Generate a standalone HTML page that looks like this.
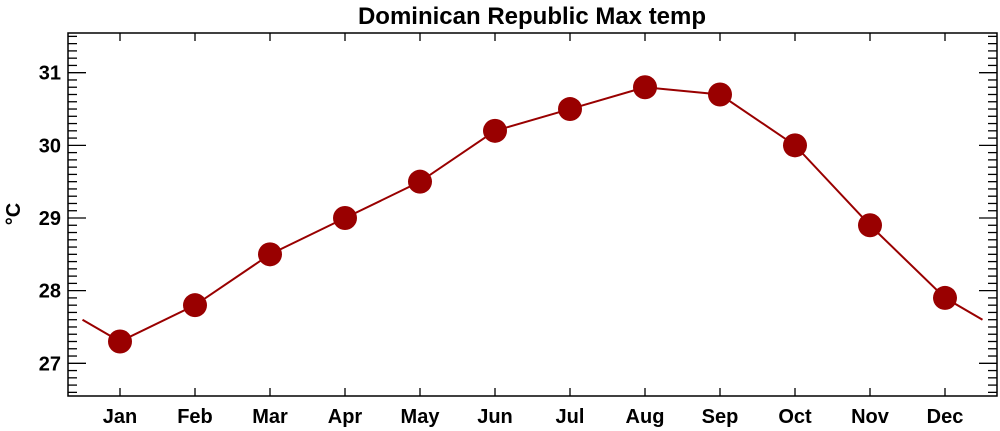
<!DOCTYPE html><html><head><style>body{margin:0;background:#fff}svg{display:block}text{font-family:"Liberation Sans",sans-serif;font-weight:bold}</style></head><body>
<svg width="1000" height="431" xmlns="http://www.w3.org/2000/svg">
<text x="532" y="24" font-size="24" text-anchor="middle">Dominican Republic Max temp</text>
<g id="ticks" stroke="#000" stroke-width="1.3"></g>
<rect x="68" y="33" width="929" height="363" fill="none" stroke="#000" stroke-width="1.5"/>
<g font-size="20" text-anchor="end" id="yl"></g>
<g font-size="20" text-anchor="middle" id="xl"></g>
<text transform="translate(20,214) rotate(-90)" font-size="20" text-anchor="middle">°C</text>
<polyline id="ln" fill="none" stroke="#990000" stroke-width="2"/>
<g id="mk" fill="#990000"></g>
</svg>
<script>
function Y(v){return 363.3-(v-27)*72.65}
function X(i){return 120+i*75}
var t=document.getElementById('ticks'),s='';
for(var k=0;k<=50;k++){var v=26.6+k*0.1;var y=Y(v);if(y<34||y>395)continue;var maj=Math.abs(v-Math.round(v))<0.01;var L=maj?18:9;
s+='<line x1="68" x2="'+(68+L)+'" y1="'+y+'" y2="'+y+'"/><line x1="997" x2="'+(997-L)+'" y1="'+y+'" y2="'+y+'"/>';}
for(var i=0;i<12;i++){s+='<line x1="'+X(i)+'" x2="'+X(i)+'" y1="396" y2="388"/><line x1="'+X(i)+'" x2="'+X(i)+'" y1="33" y2="41"/>';}
t.innerHTML=s;
var yl='';for(var v=27;v<=31;v++)yl+='<text x="61" y="'+(Y(v)+7)+'">'+v+'</text>';document.getElementById('yl').innerHTML=yl;
var m=['Jan','Feb','Mar','Apr','May','Jun','Jul','Aug','Sep','Oct','Nov','Dec'];
var d=[27.3,27.8,28.5,29,29.5,30.2,30.5,30.8,30.7,30,28.9,27.9];
var xl='';for(var i=0;i<12;i++)xl+='<text x="'+X(i)+'" y="423">'+m[i]+'</text>';document.getElementById('xl').innerHTML=xl;
var p=[[X(-0.5),Y(27.6)]];for(var i=0;i<12;i++)p.push([X(i),Y(d[i])]);p.push([X(11.5),Y(27.6)]);
document.getElementById('ln').setAttribute('points',p.map(function(a){return a.join(',')}).join(' '));
var mk='';for(var i=0;i<12;i++)mk+='<circle cx="'+X(i)+'" cy="'+Y(d[i])+'" r="12"/>';document.getElementById('mk').innerHTML=mk;
</script></body></html>
